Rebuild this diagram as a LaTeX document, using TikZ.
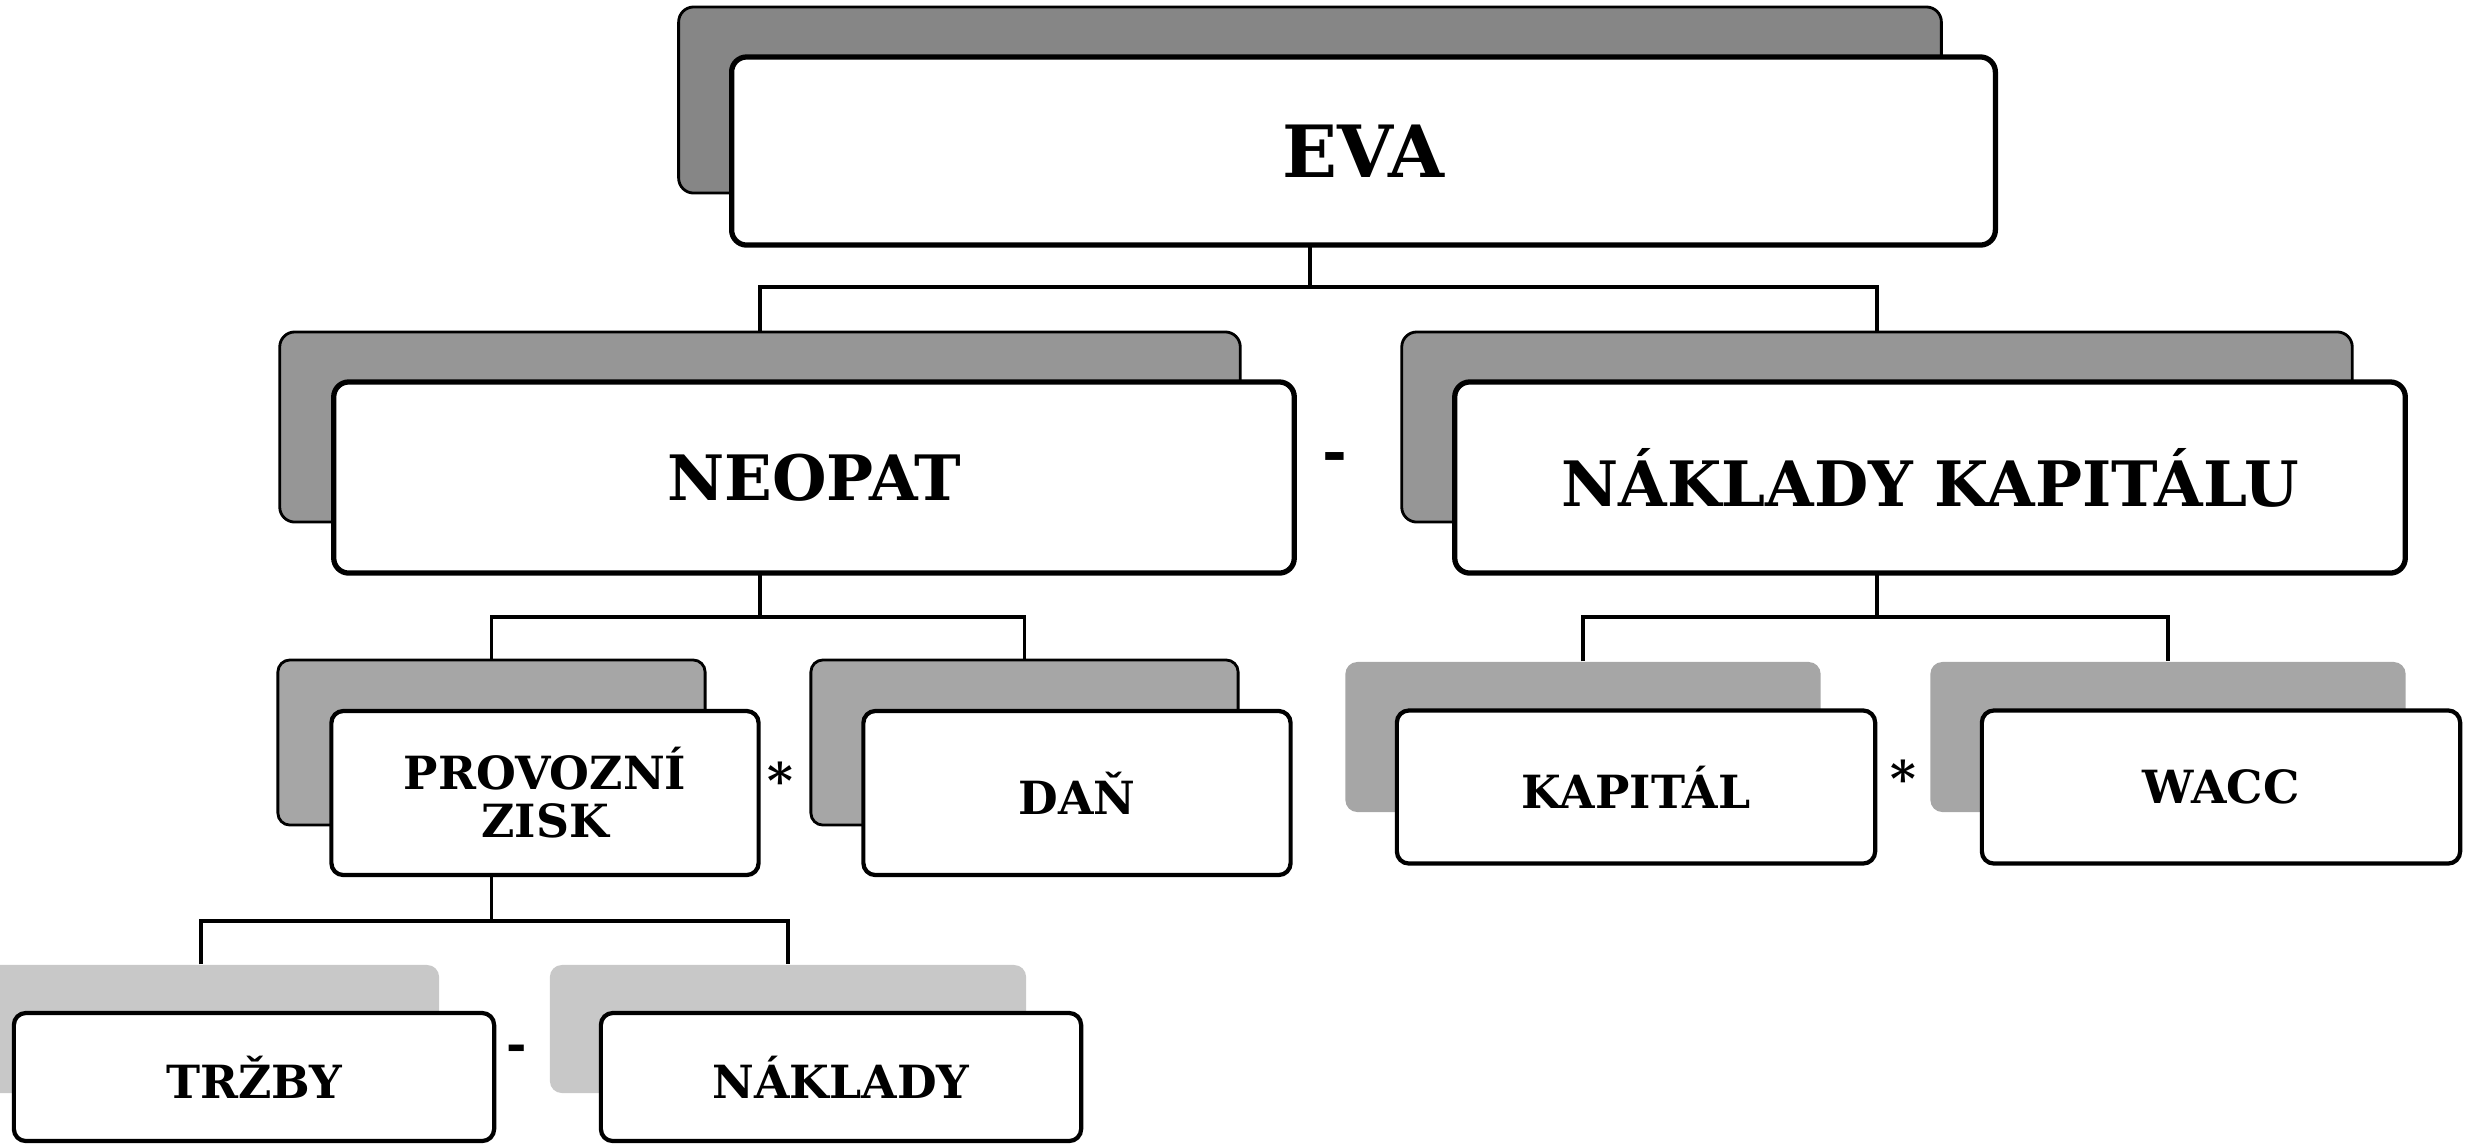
\documentclass[tikz,border=0pt]{standalone}
\usepackage{fontspec}
\setmainfont{DejaVu Serif}
\pgfdeclarelayer{background}
\pgfsetlayers{background,main}
\definecolor{gA}{HTML}{868686}
\definecolor{gB}{HTML}{969696}
\definecolor{gC}{HTML}{A6A6A6}
\definecolor{gD}{HTML}{C8C8C8}
\tikzset{
  box/.style={rectangle, rounded corners=0.15cm, inner sep=0pt, align=center, font=\bfseries},
  shadowline/.style={box, draw=black, line width=0.8pt},
  frontbig/.style={box, draw=black, fill=white, line width=1.5pt},
  frontsmall/.style={box, draw=black, fill=white, line width=1.2pt, rounded corners=0.12cm},
  conn/.style={draw=black, line width=1pt},
  opsign/.style={inner sep=0pt, font=\bfseries\fontsize{17}{17}\selectfont},
  fA/.style={font=\bfseries\fontsize{20.5}{22}\selectfont},
  fB/.style={font=\bfseries\fontsize{17.8}{20}\selectfont},
  fC/.style={font=\bfseries\fontsize{13}{13.6}\selectfont},
}
\begin{document}
\begin{tikzpicture}[x=0.01cm,y=-0.01cm]
\useasboundingbox (0,0) rectangle (2466,1144);
\clip (0,0) rectangle (2466,1144);
% shadows
\node[shadowline, fill=gA, minimum width=12.62cm, minimum height=1.86cm] (evaS) at (1310,100) {};
\node[shadowline, fill=gB, minimum width=9.6cm, minimum height=1.9cm] (neoS) at (760,427) {};
\node[shadowline, fill=gB, minimum width=9.5cm, minimum height=1.9cm] (nkS) at (1877,427) {};
\node[shadowline, fill=gC, minimum width=4.27cm, minimum height=1.65cm, rounded corners=0.12cm] (pzS) at (491.5,742.5) {};
\node[shadowline, fill=gC, minimum width=4.27cm, minimum height=1.65cm, rounded corners=0.12cm] (danS) at (1024.5,742.5) {};
\node[box, fill=gC, minimum width=4.75cm, minimum height=1.5cm, rounded corners=0.12cm] (kapS) at (1583,737) {};
\node[box, fill=gC, minimum width=4.75cm, minimum height=1.5cm, rounded corners=0.12cm] (waccS) at (2168,737) {};
\node[box, fill=gD, minimum width=4.76cm, minimum height=1.28cm, rounded corners=0.12cm] (trS) at (201,1029) {};
\node[box, fill=gD, minimum width=4.76cm, minimum height=1.28cm, rounded corners=0.12cm] (nakS) at (788,1029) {};
% fronts
\node[frontbig, fA, minimum width=12.63cm, minimum height=1.88cm] (evaF) at (1363.5,151) {EVA};
\node[frontbig, fB, minimum width=9.6cm, minimum height=1.91cm] (neoF) at (814,477.5) {NEOPAT};
\node[frontbig, fB, minimum width=9.5cm, minimum height=1.91cm] (nkF) at (1930,477.5) {NÁKLADY KAPITÁLU};
\node[frontsmall, fC, minimum width=4.27cm, minimum height=1.64cm] (pzF) at (545,793) {PROVOZNÍ\\ZISK};
\node[frontsmall, fC, minimum width=4.27cm, minimum height=1.64cm] (danF) at (1077,793) {DAŇ};
\node[frontsmall, fC, minimum width=4.78cm, minimum height=1.53cm] (kapF) at (1636,787) {KAPITÁL};
\node[frontsmall, fC, minimum width=4.78cm, minimum height=1.53cm] (waccF) at (2221,787) {WACC};
\node[frontsmall, fC, minimum width=4.8cm, minimum height=1.28cm] (trF) at (254,1077) {TRŽBY};
\node[frontsmall, fC, minimum width=4.8cm, minimum height=1.28cm] (nakF) at (841,1077) {NÁKLADY};
% operators
\node[opsign] (op1) at (1335,462) {-};
\node[opsign, font=\bfseries\fontsize{14}{14}\selectfont] (op2) at (780,780) {*};
\node[opsign, font=\bfseries\fontsize{14}{14}\selectfont] (op3) at (1903,778) {*};
\node[opsign, font=\bfseries\fontsize{14}{14}\selectfont] (op4) at (517,1053) {-};
% connectors
\coordinate (j1) at (1310,287);
\coordinate (j2) at (760,617);
\coordinate (j3) at (1877,617);
\coordinate (j4) at (491.5,921);
\begin{pgfonlayer}{background}
\draw[conn] (evaS.south) -- (j1);
\draw[conn] (neoS.north) |- (j1) -| (nkS.north);
\draw[conn] (neoS.south) -- (j2);
\draw[conn] (pzS.north) |- (j2) -| (danS.north);
\draw[conn] (nkS.south) -- (j3);
\draw[conn] (kapS.north) |- (j3) -| (waccS.north);
\draw[conn] (pzS.south) -- (j4);
\draw[conn] (trS.north) |- (j4) -| (nakS.north);
\end{pgfonlayer}
\end{tikzpicture}
\end{document}
